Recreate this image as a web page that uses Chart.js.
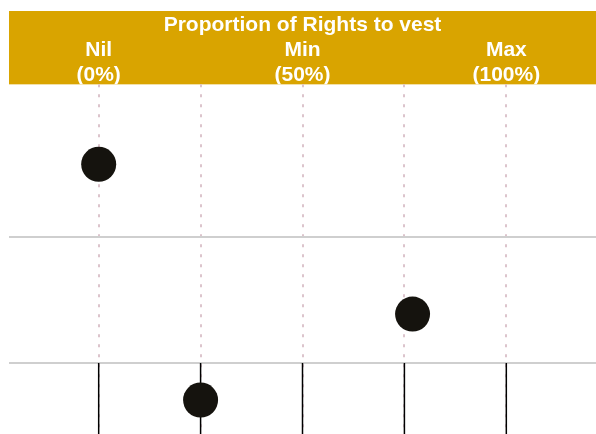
<!DOCTYPE html>
<html>
<head>
<meta charset="utf-8">
<script src="https://cdn.jsdelivr.net/npm/chart.js@4/dist/chart.umd.min.js"></script>
<style>
  html, body { margin: 0; padding: 0; background: #ffffff; }
  #wrap { width: 596px; height: 434px; position: relative; }
</style>
</head>
<body>
<div id="wrap"><canvas id="c" width="596" height="434"></canvas></div>
<script>
// ---- data ----
const headerTitle = 'Proportion of Rights to vest';
const headerTickValues = [0, 50, 100];
const headerTickLabels = [['Nil', '(0%)'], ['Min', '(50%)'], ['Max', '(100%)']];
const gridTickValues = [0, 25, 50, 75, 100];
const vestingPct = [0, 77, 25];          // x value of each marker (% of rights to vest)
const rowPosition = [0.80, 2.30, 3.16];  // vertical position of each marker (row units)
const rowDividers = [1.53, 2.79];        // horizontal separators between rows
const yRange = [0, 3.5];
const xRange = [-22, 122];

const GOLD = '#D9A400';
const FONT = "'Liberation Sans', Arial, sans-serif";

const bandPlugin = {
  id: 'band',
  beforeDraw(chart) {
    const {ctx, chartArea} = chart;
    ctx.save();
    ctx.fillStyle = GOLD;
    ctx.fillRect(chartArea.left, 11, chart.width - chartArea.left, chartArea.top - 11);
    ctx.restore();
  }
};

const lineSets = gridTickValues.map(v => ({
  type: 'scatter',
  data: [{x: v, y: rowDividers[1]}, {x: v, y: yRange[1]}],
  showLine: true,
  borderColor: '#000000',
  borderWidth: 1.5,
  pointRadius: 0,
  order: 2
}));

new Chart(document.getElementById('c'), {
  type: 'scatter',
  data: {
    datasets: [{
      data: vestingPct.map((v, i) => ({x: v, y: rowPosition[i]})),
      backgroundColor: '#15130e',
      borderColor: '#15130e',
      pointRadius: 17.5,
      pointHoverRadius: 17.5,
      borderWidth: 0,
      order: 0
    }, ...lineSets]
  },
  options: {
    responsive: false,
    animation: false,
    events: [],
    layout: { padding: { top: 11, left: 9, right: 0, bottom: 0 }, autoPadding: false },
    plugins: { legend: { display: false }, tooltip: { enabled: false } },
    scales: {
      x: {
        type: 'linear', position: 'bottom', min: xRange[0], max: xRange[1],
        afterBuildTicks: s => { s.ticks = gridTickValues.map(v => ({value: v})); },
        ticks: { display: false },
        grid: { color: '#dcc4cc', lineWidth: 2, drawTicks: false },
        border: { display: false, dash: [3, 7] }
      },
      x2: {
        type: 'linear', position: 'top', min: xRange[0], max: xRange[1],
        afterBuildTicks: s => { s.ticks = headerTickValues.map(v => ({value: v})); },
        ticks: {
          color: '#ffffff', padding: -3, maxRotation: 0, autoSkip: false,
          font: { family: FONT, size: 21, weight: 'bold', lineHeight: 1.17 },
          callback: (v) => { const i = headerTickValues.indexOf(v); return i >= 0 ? headerTickLabels[i] : ''; }
        },
        grid: { display: false, drawTicks: false },
        border: { display: false },
        title: {
          display: true, text: headerTitle, color: '#ffffff',
          font: { family: FONT, size: 21, weight: 'bold', lineHeight: 1.2 },
          padding: { top: 2, bottom: 3 }
        }
      },
      y: {
        type: 'linear', reverse: true, min: yRange[0], max: yRange[1],
        afterBuildTicks: s => { s.ticks = rowDividers.map(v => ({value: v})); },
        ticks: { display: false },
        grid: { color: '#cfcfcf', lineWidth: 2, drawTicks: false },
        border: { display: false }
      }
    }
  },
  plugins: [bandPlugin]
});
</script>
</body>
</html>
